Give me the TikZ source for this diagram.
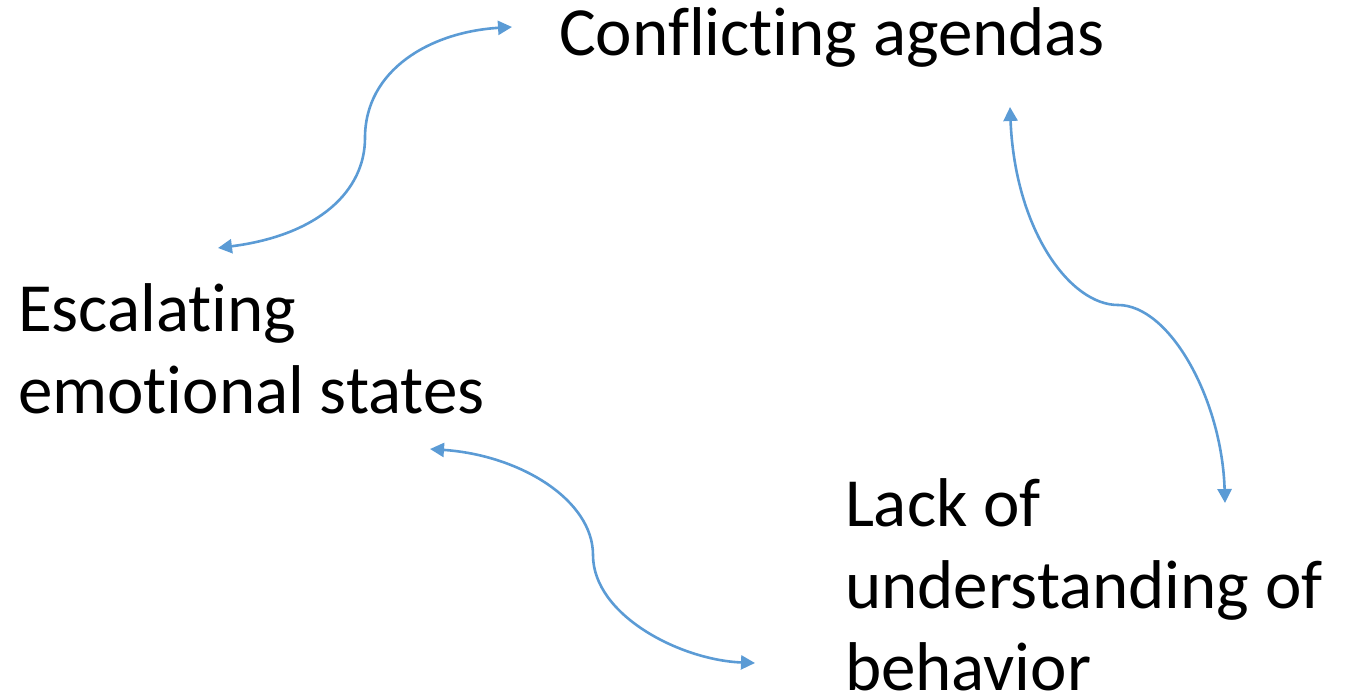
\documentclass[tikz,border=0pt]{standalone}
\usepackage{fontspec}
\setmainfont{Carlito}[Ligatures=NoCommon]
\usetikzlibrary{arrows.meta}
\definecolor{linkblue}{RGB}{91,155,213}
\begin{document}
\begin{tikzpicture}[x=1pt,y=-1pt,
  every node/.style={inner sep=0pt,outer sep=0pt,align=left,font=\fontsize{69}{82}\selectfont},
  link/.style={linkblue,line width=2.6pt,{Triangle[length=14pt,width=14pt]}-{Triangle[length=14pt,width=14pt]}}]
\useasboundingbox (0,0) rectangle (1353,696);
\node [anchor=base west] (agendas) at (559,55) {Conflicting agendas};
\node [anchor=base west] (emotions) at (18,413) {Escalating\\emotional states};
\node [anchor=base west] (lack) at (845,690) {Lack of\\understanding of\\behavior};
\coordinate (a1) at (218,248);
\coordinate (a2) at (512,27);
\coordinate (b1) at (1010,107);
\coordinate (b2) at (1225,503);
\coordinate (c1) at (430,449);
\coordinate (c2) at (755,663);
\draw [link] (a1) .. controls (320,235) and (365,190) .. (365,138) .. controls (365,70) and (430,32) .. (a2);
\draw [link] (b1) .. controls (1015,230) and (1070,305) .. (1118,305) .. controls (1170,305) and (1222,400) .. (b2);
\draw [link] (c1) .. controls (520,455) and (593,500) .. (593,555) .. controls (593,615) and (680,660) .. (c2);
\end{tikzpicture}
\end{document}
